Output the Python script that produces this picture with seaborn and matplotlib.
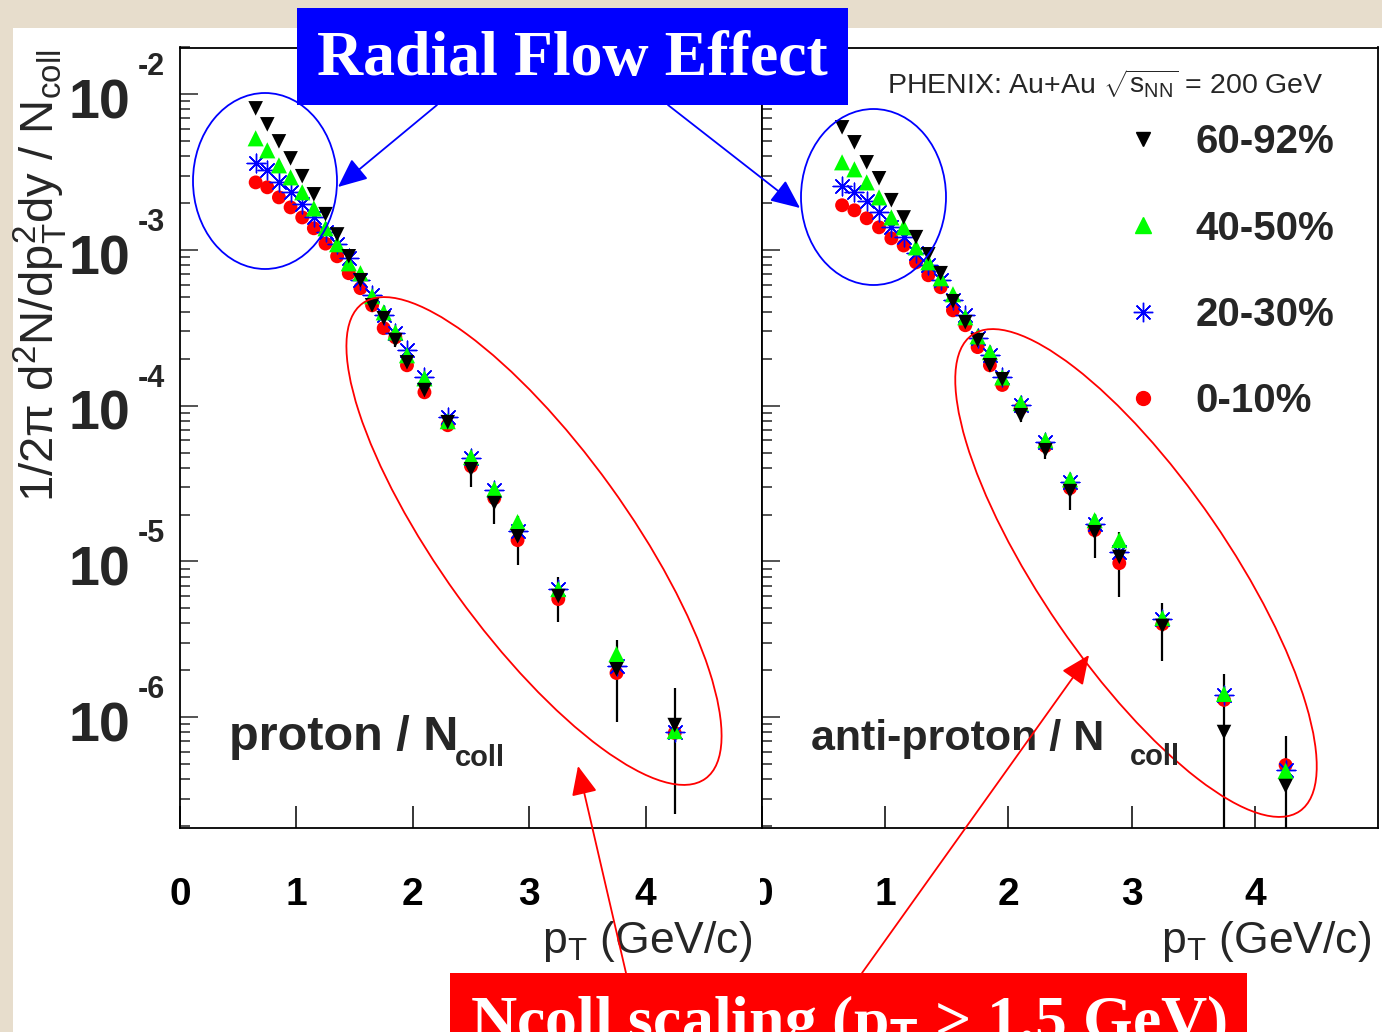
import numpy as np
import pandas as pd
import matplotlib
matplotlib.use("Agg")
import matplotlib.pyplot as plt
import seaborn as sns
from matplotlib.patches import Ellipse, Rectangle
from matplotlib.lines import Line2D
from matplotlib import transforms as mtransforms
from matplotlib.ticker import LogLocator, NullFormatter, NullLocator
from matplotlib.font_manager import FontProperties

# ---------------- data ----------------
pt_bins = [0.65, 0.75, 0.85, 0.95, 1.05, 1.15, 1.25, 1.35, 1.45, 1.55, 1.65,
           1.75, 1.85, 1.95, 2.1, 2.3, 2.5, 2.7, 2.9, 3.25, 3.75, 4.25]

# proton / Ncoll
p_60_92 = [8.13e-3, 6.42e-3, 4.99e-3, 3.88e-3, 2.98e-3, 2.28e-3, 1.70e-3, 1.26e-3, 9.12e-4, 6.40e-4, 4.42e-4,
           3.65e-4, 2.64e-4, 1.90e-4, 1.26e-4, 7.84e-5, 3.91e-5, 2.37e-5, 1.45e-5, 5.99e-6, 2.03e-6, 8.89e-7]
p_40_50 = [5.22e-3, 4.37e-3, 3.50e-3, 2.93e-3, 2.35e-3, 1.85e-3, 1.38e-3, 1.09e-3, 8.22e-4, 7.10e-4, 5.05e-4,
           3.98e-4, 2.96e-4, 2.11e-4, 1.50e-4, 7.96e-5, 4.68e-5, 2.91e-5, 1.79e-5, 6.64e-6, 2.54e-6, 8.13e-7]
p_20_30 = [3.61e-3, 3.25e-3, 2.72e-3, 2.35e-3, 1.97e-3, 1.62e-3, 1.30e-3, 1.10e-3, 8.85e-4, 6.40e-4, 5.13e-4,
           3.81e-4, 2.92e-4, 2.27e-4, 1.52e-4, 8.44e-5, 4.60e-5, 2.87e-5, 1.56e-5, 6.64e-6, 2.13e-6, 8.02e-7]
p_0_10 = [2.72e-3, 2.53e-3, 2.18e-3, 1.88e-3, 1.62e-3, 1.38e-3, 1.10e-3, 9.12e-4, 7.10e-4, 5.69e-4, 4.42e-4,
          3.15e-4, 2.75e-4, 1.82e-4, 1.22e-4, 7.50e-5, 4.09e-5, 2.55e-5, 1.37e-5, 5.73e-6, 1.92e-6, 7.91e-7]
p_60_92_err = [2.4e-4, 1.9e-4, 1.5e-4, 1.2e-4, 9.0e-5, 7.0e-5, 5.0e-5, 4.0e-5, 3.0e-5, 2.0e-5, 4.0e-5,
               3.5e-5, 2.5e-5, 1.5e-5, 1.2e-5, 6.0e-6, 9.0e-6, 6.4e-6, 5.0e-6, 1.9e-6, 1.1e-6, 6.5e-7]

# anti-proton / Ncoll
pb_60_92 = [6.14e-3, 4.92e-3, 3.66e-3, 2.89e-3, 2.09e-3, 1.62e-3, 1.21e-3, 9.39e-4, 7.10e-4, 4.69e-4, 3.44e-4,
            2.64e-4, 1.82e-4, 1.48e-4, 8.69e-5, 5.18e-5, 2.83e-5, 1.54e-5, 1.07e-5, 3.85e-6, 8.02e-7, 3.61e-7]
pb_40_50 = [3.66e-3, 3.30e-3, 2.72e-3, 2.18e-3, 1.62e-3, 1.40e-3, 1.04e-3, 8.34e-4, 6.59e-4, 5.20e-4, 3.70e-4,
            2.79e-4, 2.21e-4, 1.52e-4, 1.04e-4, 6.01e-5, 3.37e-5, 1.84e-5, 1.37e-5, 4.33e-6, 1.41e-6, 4.51e-7]
pb_20_30 = [2.57e-3, 2.35e-3, 2.06e-3, 1.75e-3, 1.40e-3, 1.21e-3, 9.53e-4, 7.98e-4, 6.40e-4, 4.76e-4, 3.81e-4,
            2.71e-4, 2.11e-4, 1.52e-4, 1.01e-4, 5.83e-5, 3.23e-5, 1.73e-5, 1.15e-5, 4.26e-6, 1.39e-6, 4.57e-7]
pb_0_10 = [1.94e-3, 1.80e-3, 1.60e-3, 1.40e-3, 1.19e-3, 1.07e-3, 8.34e-4, 6.89e-4, 5.77e-4, 4.10e-4, 3.29e-4,
           2.38e-4, 1.82e-4, 1.36e-4, 9.64e-5, 5.50e-5, 2.96e-5, 1.59e-5, 9.75e-6, 3.96e-6, 1.29e-6, 4.92e-7]
pb_60_92_err = [1.8e-4, 1.5e-4, 1.1e-4, 8.7e-5, 6.3e-5, 4.9e-5, 3.6e-5, 2.8e-5, 2.1e-5, 1.4e-5, 3.0e-5,
                2.4e-5, 1.6e-5, 1.3e-5, 8.0e-6, 6.0e-6, 7.0e-6, 4.9e-6, 4.8e-6, 1.55e-6, 1.1e-6, 3.9e-7]

centralities = ["60-92%", "40-50%", "20-30%", "0-10%"]
xtick_values = [0, 1, 2, 3, 4]
xtick_labels = ["0", "1", "2", "3", "4"]
ytick_exponents = [-2, -3, -4, -5, -6]

# ---------------- style ----------------
sns.set_style("white")
plt.rcParams["font.family"] = ["Liberation Sans", "DejaVu Sans"]
plt.rcParams["mathtext.fontset"] = "custom"
plt.rcParams["mathtext.rm"] = "Liberation Sans"
plt.rcParams["mathtext.it"] = "Liberation Sans"
plt.rcParams["mathtext.bf"] = "Liberation Sans:bold"

W, H = 1382, 1032
fig = plt.figure(figsize=(W / 100, H / 100), dpi=100, facecolor="#E7DDCC")
fig.add_artist(Rectangle((13 / W, 0), 1, 1 - 28 / H, transform=fig.transFigure,
                         facecolor="white", edgecolor="none", zorder=-5))

AX_TOP, AX_BOT = 47.5, 828
ax1 = fig.add_axes([180 / W, 1 - AX_BOT / H, (762 - 180) / W, (AX_BOT - AX_TOP) / H])
ax2 = fig.add_axes([762 / W, 1 - AX_BOT / H, (1378 - 762) / W, (AX_BOT - AX_TOP) / H])

YMIN, YMAX = 1.94e-7, 2.0e-2

series_style = {
    "0-10%": dict(color="#FF0000", marker="o", s=100, lw=0, z=3),
    "20-30%": dict(color="#0000FF", marker=(8, 2, 0), s=180, lw=1.0, z=4),
    "40-50%": dict(color="#00FF00", marker="^", s=135, lw=0, z=5),
    "60-92%": dict(color="#000000", marker="v", s=110, lw=0, z=6),
}


def draw_panel(ax, vals, err):
    df = pd.DataFrame({
        "pT": pt_bins * 4,
        "y": vals["60-92%"] + vals["40-50%"] + vals["20-30%"] + vals["0-10%"],
        "cent": sum([[c] * len(pt_bins) for c in centralities], []),
    })
    ax.errorbar(pt_bins, vals["60-92%"], yerr=err, fmt="none", ecolor="black",
                elinewidth=1.6, capsize=0, zorder=2)
    for cent in ["0-10%", "20-30%", "40-50%", "60-92%"]:
        st = series_style[cent]
        sub = df[df["cent"] == cent]
        kw = dict(color=st["color"], marker=st["marker"], s=st["s"], linewidth=st["lw"], zorder=st["z"])
        kw["edgecolor"] = st["color"] if st["lw"] > 0 else "none"
        sns.scatterplot(data=sub, x="pT", y="y", ax=ax, legend=False, **kw)


def style_axes(ax):
    ax.set_yscale("log")
    ax.set_xlim(0, 5)
    ax.set_ylim(YMIN, YMAX)
    ax.set_xlabel("")
    ax.set_ylabel("")
    ax.set_facecolor("white")
    for s in ax.spines.values():
        s.set_visible(True)
        s.set_linewidth(1.3)
        s.set_color("black")
    ax.yaxis.set_major_locator(LogLocator(base=10, numticks=12))
    ax.yaxis.set_minor_locator(LogLocator(base=10, subs=np.arange(2, 10), numticks=12))
    ax.yaxis.set_major_formatter(NullFormatter())
    ax.yaxis.set_minor_formatter(NullFormatter())
    ax.set_xticks(xtick_values)
    ax.set_xticklabels(xtick_labels, fontweight="bold", fontsize=28)
    ax.xaxis.set_minor_locator(NullLocator())
    ax.tick_params(axis="x", which="major", direction="in", length=16, width=1.1,
                   bottom=True, top=False, pad=35, colors="black")
    ax.tick_params(axis="y", which="major", direction="in", length=13, width=1.1, left=True, right=False)
    ax.tick_params(axis="y", which="minor", direction="in", length=7, width=1.1, left=True, right=False)
    ax.grid(False)


draw_panel(ax1, {"60-92%": p_60_92, "40-50%": p_40_50, "20-30%": p_20_30, "0-10%": p_0_10}, p_60_92_err)
draw_panel(ax2, {"60-92%": pb_60_92, "40-50%": pb_40_50, "20-30%": pb_20_30, "0-10%": pb_0_10}, pb_60_92_err)
style_axes(ax1)
style_axes(ax2)

# y tick labels 10^k (left panel only)
trans = mtransforms.blended_transform_factory(ax1.transAxes, ax1.transData)
xf = (130 - 180) / (762 - 180)
for k in ytick_exponents:
    ax1.annotate("10", xy=(xf, 10.0 ** k), xycoords=trans, xytext=(0, -24), textcoords="offset pixels",
                 ha="right", va="baseline", fontsize=40, fontweight="bold", annotation_clip=False)
    ax1.annotate(str(k), xy=(xf, 10.0 ** k), xycoords=trans, xytext=(8, 19), textcoords="offset pixels",
                 ha="left", va="baseline", fontsize=22, fontweight="bold", annotation_clip=False)

# legend
handles = [
    Line2D([], [], ls="none", marker="v", color="black", markersize=10),
    Line2D([], [], ls="none", marker="^", color="#00FF00", markersize=12),
    Line2D([], [], ls="none", marker=(8, 2, 0), color="#0000FF", markeredgecolor="#0000FF",
           markersize=14, markeredgewidth=1.0),
    Line2D([], [], ls="none", marker="o", color="#FF0000", markersize=10),
]
ax2.legend(handles, centralities, loc="upper left", bbox_to_anchor=(0.586, 0.903), frameon=False,
           prop=FontProperties(family="Liberation Sans", weight="bold", size=29),
           labelspacing=1.2, handletextpad=0.8, handlelength=1.0, borderaxespad=0, borderpad=0)

# ---------------- overlay annotations (pixel space) ----------------
ov = fig.add_axes([0, 0, 1, 1], zorder=10)
ov.set_xlim(0, W)
ov.set_ylim(H, 0)
ov.axis("off")
ov.patch.set_alpha(0)

# hide left half of right-panel "0" tick label (as in the reference)
ov.add_patch(Rectangle((735, 860), 25.5, 60, facecolor="white", edgecolor="none"))

ov.text(40, 276, r"1/2$\pi$ d$^{2}$N/dp$_{\mathrm{T}}^{2}$dy / N$_{\mathrm{coll}}$", rotation=90,
        ha="center", va="center", fontsize=34)
ov.text(887, 93, r"PHENIX: Au+Au $\sqrt{\mathrm{s}_{\mathrm{NN}}}$ = 200 GeV", ha="left",
        va="baseline", fontsize=20.5)
ov.text(229, 750, "proton / N", ha="left", va="baseline", fontsize=35, fontweight="bold")
ov.text(455, 766, "coll", ha="left", va="baseline", fontsize=21, fontweight="bold")
ov.text(811, 750, "anti-proton / N", ha="left", va="baseline", fontsize=31, fontweight="bold")
ov.text(1130, 765, "coll", ha="left", va="baseline", fontsize=21, fontweight="bold")
ov.text(752, 953, r"p$_{\mathrm{T}}$ (GeV/c)", ha="right", va="baseline", fontsize=32)
ov.text(1371, 953, r"p$_{\mathrm{T}}$ (GeV/c)", ha="right", va="baseline", fontsize=32)

# ellipses
ov.add_patch(Ellipse((265, 181), 144, 176, angle=0, fill=False, edgecolor="#0000FF", lw=1.3))
ov.add_patch(Ellipse((873.5, 197), 145, 176, angle=0, fill=False, edgecolor="#0000FF", lw=1.3))
ov.add_patch(Ellipse((534, 541), 586, 188, angle=54.2, fill=False, edgecolor="#FF0000", lw=1.3))
ov.add_patch(Ellipse((1136, 573), 578, 186, angle=55.5, fill=False, edgecolor="#FF0000", lw=1.3))

# boxes
ov.add_patch(Rectangle((297, 8), 551, 97, facecolor="#0000FF", edgecolor="none"))
ov.text(572, 60, "Radial Flow Effect", ha="center", va="center", color="white",
        fontsize=46, fontweight="bold", family="Liberation Serif")
ov.add_patch(Rectangle((450, 973), 797, 70, facecolor="#FF0000", edgecolor="none"))
ov.text(470, 1040, r"Ncoll scaling (p$_{\mathbf{T}}$ > 1.5 GeV)", ha="left", va="baseline", color="white",
        fontsize=46, fontweight="bold", family="Liberation Serif")

# arrows
arrow_kw = dict(arrowstyle="-|>,head_length=0.9,head_width=0.4", lw=1.3, shrinkA=0, shrinkB=0,
                mutation_scale=20)
ov.annotate("", xy=(338, 187), xytext=(437, 105), arrowprops=dict(color="#0000FF", **arrow_kw))
ov.annotate("", xy=(800, 208), xytext=(668, 105), arrowprops=dict(color="#0000FF", **arrow_kw))
ov.annotate("", xy=(578, 766), xytext=(626, 973), arrowprops=dict(color="#FF0000", **arrow_kw))
ov.annotate("", xy=(1089, 655), xytext=(862, 973), arrowprops=dict(color="#FF0000", **arrow_kw))

fig.savefig("out.png", dpi=100, facecolor=fig.get_facecolor())
